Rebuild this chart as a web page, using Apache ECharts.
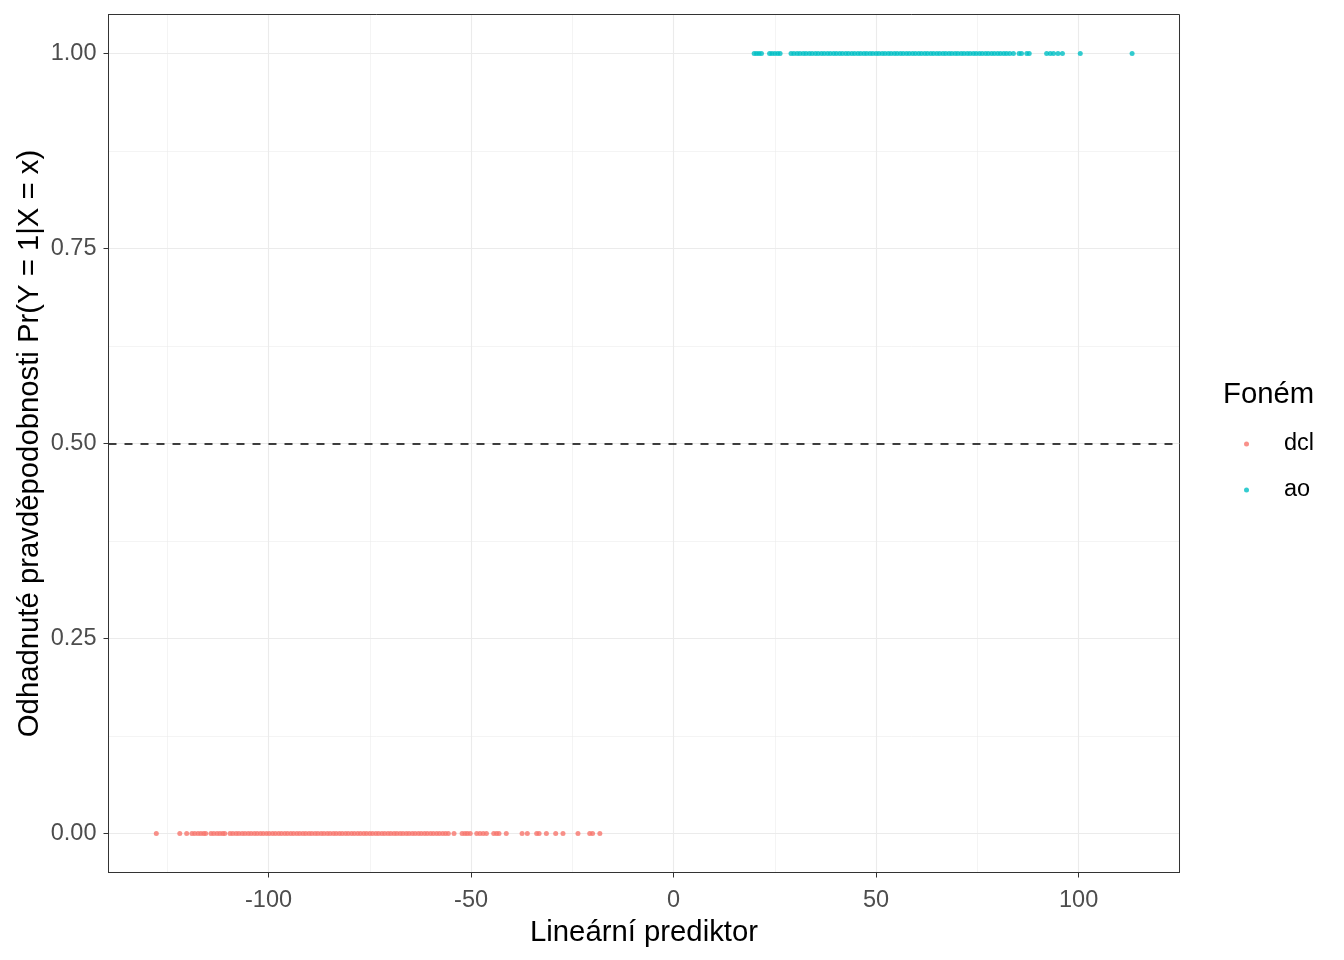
<!DOCTYPE html>
<html>
<head>
<meta charset="utf-8">
<script src="https://cdn.jsdelivr.net/npm/echarts@6/dist/echarts.min.js"></script>
<style>html,body{margin:0;padding:0;background:#fff}#c{width:1344px;height:960px}</style>
</head>
<body>
<div id="c"></div>
<script>
const dclX = [-127.7, -121.9, -120.2, -118.9, -118.2, -117.4, -116.7, -116.0, -115.5,
  -114.2, -113.5, -112.7, -112.0, -111.3, -110.8,
  -109.5, -108.8, -108.0, -107.3, -106.5, -105.8, -105.0, -104.3, -103.5, -102.8, -102.0,
  -101.3, -100.5, -99.8, -99.0, -98.3, -97.5, -96.8, -96.0, -95.3, -94.5, -93.8, -93.0,
  -92.3, -91.5, -90.8, -90.0, -89.3, -88.5, -87.8, -87.0, -86.3, -85.5, -84.8, -84.0,
  -83.3, -82.5, -81.8, -81.0, -80.3, -79.5, -78.8, -78.0, -77.3, -76.5, -75.8, -75.0,
  -74.3, -73.5, -72.8, -72.0, -71.3, -70.5, -69.8, -69.0, -68.3, -67.5, -66.8, -66.0,
  -65.3, -64.5, -63.8, -63.0, -62.3, -61.5, -60.8, -60.0, -59.3, -58.5, -57.8, -57.0,
  -56.3, -55.6, -54.2,
  -52.2, -51.5, -50.9, -50.2, -48.6, -47.8, -47.0, -46.2,
  -44.4, -43.7, -43.1, -41.3, -37.4, -36.1, -33.8, -33.2, -31.4, -29.1, -27.3, -23.6,
  -20.7, -20.0, -18.2];
const dclY = 0;

const aoX = [19.9, 20.5, 21.1, 21.7, 23.7, 24.3, 25.0, 25.7, 26.3,
  29.0, 29.7, 30.5, 31.2, 32.0, 32.7, 33.5, 34.2, 35.0, 35.7, 36.5, 37.2, 38.0, 38.7,
  39.5, 40.2, 41.0, 41.7, 42.5, 43.2, 44.0, 44.7, 45.5, 46.2, 47.0, 47.7, 48.5, 49.2,
  50.0, 50.7, 51.5, 52.2, 53.0, 53.7, 54.5, 55.2, 56.0, 56.7, 57.5, 58.2, 59.0, 59.7,
  60.5, 61.2, 62.0, 62.7, 63.5, 64.2, 65.0, 65.7, 66.5, 67.2, 68.0, 68.7, 69.5, 70.2,
  71.0, 71.7, 72.5, 73.2, 74.0, 74.7, 75.5, 76.2, 77.0, 77.7, 78.5, 79.2, 80.0, 80.7,
  81.5, 82.2, 83.0, 83.9, 85.3, 85.9, 87.2, 87.8, 92.1, 93.0, 93.8, 94.9, 96.0, 100.4, 113.2];
const aoY = 1;

const xRange = [-139.5, 124.9];
const yRange = [-0.05, 1.05];
const threshold = 0.5;
const yTickLabels = ['0.00', '0.25', '0.50', '0.75', '1.00'];
const seriesNames = ['dcl', 'ao'];
const colors = ['#F8766D', '#00BFC4'];

// y axis drawn in quarter units so that ticks fall on 0.25 steps
const Q = 4;
const chart = echarts.init(document.getElementById('c'), null, {renderer: 'canvas'});
const font = '"Liberation Sans", Arial, sans-serif';

const axisLineStyle = {show: true, onZero: false, lineStyle: {color: '#333', width: 1}};

chart.setOption({
  backgroundColor: '#fff',
  animation: false,
  title: {
    text: 'Foném', left: 1223, top: 380, padding: 0,
    textStyle: {fontFamily: font, fontSize: 29.3, fontWeight: 'normal', color: '#000'}
  },
  legend: {
    orient: 'vertical', left: 1244, top: 432, padding: 0,
    itemWidth: 5, itemHeight: 5, itemGap: 22,
    icon: 'circle',
    data: seriesNames,
    textStyle: {fontFamily: font, fontSize: 23.5, color: '#000', padding: [0, 0, 0, 30]}
  },
  grid: {left: 108.5, right: 164.5, top: 14.5, bottom: 87.5, show: true, z: 10,
    borderColor: '#333', borderWidth: 1, backgroundColor: 'transparent'},
  xAxis: {
    type: 'value', min: xRange[0], max: xRange[1],
    name: 'Lineární prediktor', nameLocation: 'middle', nameGap: 46,
    nameTextStyle: {fontFamily: font, fontSize: 29.3, color: '#000'},
    axisLine: axisLineStyle,
    axisTick: {show: true, length: 5, lineStyle: {color: '#333', width: 1}},
    axisLabel: {showMinLabel: false, showMaxLabel: false, margin: 16, fontFamily: font, fontSize: 23.5, color: '#4D4D4D'},
    splitLine: {show: true, lineStyle: {color: '#EBEBEB', width: 1.1}},
    minorTick: {show: false, splitNumber: 2},
    minorSplitLine: {show: true, lineStyle: {color: '#EBEBEB', width: 0.55}}
  },
  yAxis: {
    type: 'value', min: yRange[0] * Q, max: yRange[1] * Q,
    name: 'Odhadnuté pravděpodobnosti Pr(Y = 1|X = x)', nameLocation: 'middle', nameGap: 64,
    nameMoveOverlap: false,
    nameRotate: 90,
    nameTextStyle: {fontFamily: font, fontSize: 29.3, color: '#000'},
    axisLine: axisLineStyle,
    axisTick: {show: true, length: 5, lineStyle: {color: '#333', width: 1}},
    axisLabel: {showMinLabel: false, showMaxLabel: false, margin: 12, fontFamily: font, fontSize: 23.5, color: '#4D4D4D',
      formatter: v => yTickLabels[Math.round(v)] ?? ''},
    splitLine: {show: true, lineStyle: {color: '#EBEBEB', width: 1.1}},
    minorTick: {show: false, splitNumber: 2},
    minorSplitLine: {show: true, lineStyle: {color: '#EBEBEB', width: 0.55}}
  },
  series: [
    {
      name: seriesNames[0], type: 'scatter', symbolSize: 5, color: colors[0],
      data: dclX.map(x => [x, dclY * Q]),
      markLine: {
        silent: true, symbol: 'none', label: {show: false},
        lineStyle: {color: '#000', type: [8, 8], width: 1.7},
        data: [{yAxis: threshold * Q}]
      }
    },
    {
      name: seriesNames[1], type: 'scatter', symbolSize: 5, color: colors[1],
      data: aoX.map(x => [x, aoY * Q])
    }
  ]
});
</script>
</body>
</html>
